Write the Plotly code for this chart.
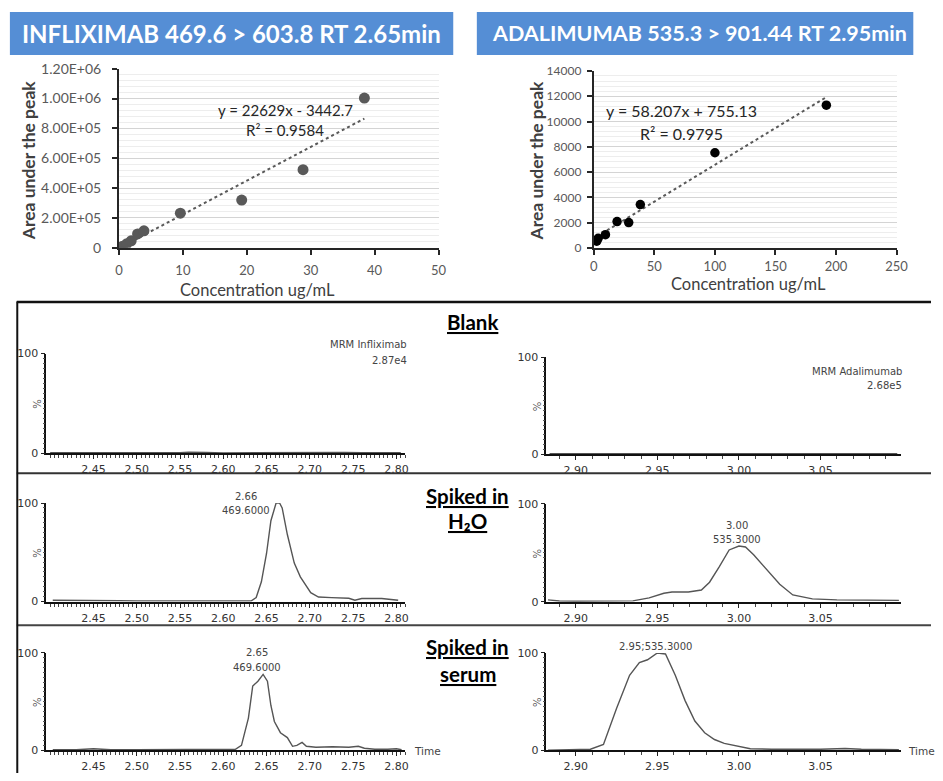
import plotly.graph_objects as go

# ---------------- calibration data ----------------
INFLIX_CONC = [0.0, 0.3, 0.6, 1.2, 1.9, 2.9, 3.9, 9.6, 19.2, 28.8, 38.4]
INFLIX_AREA = [0, 4000, 9000, 26000, 46000, 92000, 113000, 231000, 319000, 523000, 1003000]
INFLIX_SLOPE, INFLIX_ICPT = 22629, -3442.7
INFLIX_EQ = ["y = 22629x - 3442.7", "R² = 0.9584"]
INFLIX_YTICKS = [0, 200000, 400000, 600000, 800000, 1000000, 1200000]
INFLIX_YLABELS = ["0", "2.00E+05", "4.00E+05", "6.00E+05", "8.00E+05", "1.00E+06", "1.20E+06"]
INFLIX_XTICKS = [0, 10, 20, 30, 40, 50]

ADA_CONC = [2.4, 3.6, 9.6, 19.2, 28.8, 38.4, 100, 192]
ADA_AREA = [540, 770, 1050, 2090, 2010, 3430, 7530, 11290]
ADA_SLOPE, ADA_ICPT = 58.207, 755.13
ADA_EQ = ["y = 58.207x + 755.13", "R² = 0.9795"]
ADA_YTICKS = [0, 2000, 4000, 6000, 8000, 10000, 12000, 14000]
ADA_XTICKS = [0, 50, 100, 150, 200, 250]

TITLES = ["INFLIXIMAB 469.6 > 603.8 RT 2.65min", "ADALIMUMAB 535.3 > 901.44 RT 2.95min"]
ROW_LABELS = ["<b><u>Blank</u></b>",
              ["<b><u>Spiked in</u></b>", "<b><u>H₂O</u></b>"],
              ["<b><u>Spiked in</u></b>", "<b><u>serum</u></b>"]]

# ---------------- chromatograms (time in min, relative intensity %) ----------------
BLANK_INF_T = [2.400, 2.450, 2.500, 2.550, 2.560, 2.565, 2.570, 2.575, 2.580, 2.600, 2.650,
               2.670, 2.680, 2.690, 2.700, 2.720, 2.730, 2.740, 2.760, 2.805]
BLANK_INF_Y = [0.3, 0.2, 0.2, 0.3, 0.8, 0.9, 0.5, 0.8, 0.6, 0.2, 0.3,
               0.8, 0.9, 0.9, 0.6, 0.7, 0.9, 0.6, 0.3, 0.4]
BLANK_ADA_T = [2.884, 2.920, 2.960, 3.000, 3.040, 3.070, 3.097]
BLANK_ADA_Y = [0.4, 0.3, 0.3, 0.3, 0.3, 0.4, 0.4]

H2O_INF_T = [2.403, 2.42, 2.44, 2.46, 2.48, 2.50, 2.55, 2.60, 2.62, 2.632, 2.638, 2.644,
             2.650, 2.655, 2.661, 2.665, 2.668, 2.674, 2.682, 2.689, 2.701, 2.710, 2.725,
             2.745, 2.752, 2.760, 2.783, 2.802]
H2O_INF_Y = [1.3, 1.3, 1.0, 1.3, 0.8, 0.5, 0.3, 0.3, 0.3, 0.5, 4, 20,
             49, 82, 100, 100, 95, 68, 39, 25, 9, 4.6, 4,
             3.3, 1.3, 3, 3, 1.3]
H2O_ADA_T = [2.883, 2.89, 2.90, 2.92, 2.935, 2.945, 2.954, 2.959, 2.969, 2.977, 2.982,
             2.988, 2.994, 3.000, 3.004, 3.009, 3.017, 3.025, 3.033, 3.045, 3.06, 3.08, 3.098]
H2O_ADA_Y = [2, 0.8, 0.5, 0.5, 1, 4, 8.7, 10, 10, 12, 20,
             36, 53, 57, 56, 48, 33, 18, 7, 3, 2, 1.5, 1.5]

SERUM_INF_T = [2.403, 2.43, 2.45, 2.47, 2.50, 2.55, 2.60, 2.614, 2.621, 2.629, 2.634, 2.640,
               2.646, 2.651, 2.655, 2.659, 2.666, 2.674, 2.680, 2.685, 2.691, 2.696, 2.707,
               2.726, 2.745, 2.756, 2.763, 2.775, 2.790, 2.800, 2.806]
SERUM_INF_Y = [0.5, 0.5, 1.5, 0.5, 0.5, 0.5, 0.5, 1, 5, 33, 66, 71,
               78, 71, 46, 29.5, 18, 13, 4, 5, 8, 4, 3,
               3.5, 3, 4, 2, 1, 1, 1.5, 0.5]
SERUM_ADA_T = [2.883, 2.90, 2.909, 2.917, 2.925, 2.933, 2.939, 2.944, 2.950, 2.955, 2.961,
               2.967, 2.973, 2.979, 2.985, 2.991, 2.999, 3.007, 3.02, 3.05, 3.065, 3.075, 3.098]
SERUM_ADA_Y = [0, 0.3, 1, 6, 43, 77, 90, 93, 100, 99, 77,
               51, 30, 18, 11, 7, 4, 1.5, 1, 1, 1.8, 1, 0.5]

CHROMS = [(BLANK_INF_T, BLANK_INF_Y), (BLANK_ADA_T, BLANK_ADA_Y),
          (H2O_INF_T, H2O_INF_Y), (H2O_ADA_T, H2O_ADA_Y),
          (SERUM_INF_T, SERUM_INF_Y), (SERUM_ADA_T, SERUM_ADA_Y)]

LEFT_XTICKS = [2.45, 2.50, 2.55, 2.60, 2.65, 2.70, 2.75, 2.80]
RIGHT_XTICKS = [2.90, 2.95, 3.00, 3.05]

# ---------------- page geometry (pixels) ----------------
W, H = 943, 781


def fx(p):
    return p / W


def fy(p):
    return 1 - p / H


CAL_FONT = "Lato"
MS_FONT = "DejaVu Sans"
BLUE = "#558ed5"

fig = go.Figure()
layout = dict(width=W, height=H, margin=dict(l=0, r=0, t=0, b=0),
              paper_bgcolor="white", plot_bgcolor="rgba(0,0,0,0)",
              showlegend=False, shapes=[], annotations=[])
shapes = layout["shapes"]
ann = layout["annotations"]


def add_text(text, x, y, size, color="#404040", font=CAL_FONT, xanchor="center",
             angle=0, yanchor="middle"):
    ann.append(dict(text=text, x=fx(x), y=fy(y), xref="paper", yref="paper",
                    showarrow=False, xanchor=xanchor, yanchor=yanchor, textangle=angle,
                    font=dict(family=font, size=size, color=color)))


# ---------------- calibration curve panels ----------------
cal_panels = [
    dict(conc=INFLIX_CONC, area=INFLIX_AREA, slope=INFLIX_SLOPE, icpt=INFLIX_ICPT,
         xr=[0, 50], yr=[0, 1200000], xt=INFLIX_XTICKS, yt=INFLIX_YTICKS, yl=INFLIX_YLABELS,
         minor=40000, box=(117, 442, 61, 244), mcolor="#595959", msize=11,
         fit_x=(0.0, 38.4), eq=INFLIX_EQ, eq_pos=(286, 103, 124), eq_size=15,
         ytick_size=14, ystand=8, xstand=5,
         ytitle=(25, 155), xtitle=(258, 287), banner=(6, 457), title=TITLES[0],
         title_size=24, title_x=231),
    dict(conc=ADA_CONC, area=ADA_AREA, slope=ADA_SLOPE, icpt=ADA_ICPT,
         xr=[0, 250], yr=[0, 14000], xt=ADA_XTICKS, yt=ADA_YTICKS,
         yl=[str(v) for v in ADA_YTICKS],
         minor=400, box=(600, 908, 63.3, 244.3), mcolor="#000000", msize=9.5,
         fit_x=(2.4, 192.0), eq=ADA_EQ, eq_pos=(689, 104, 127), eq_size=16,
         ytick_size=12, ystand=3, xstand=0,
         ytitle=(542, 155), xtitle=(757, 281), banner=(481, 925), title=TITLES[1],
         title_size=21.5, title_x=707),
]

for i, p in enumerate(cal_panels, start=1):
    xa = "xaxis" if i == 1 else f"xaxis{i}"
    ya = "yaxis" if i == 1 else f"yaxis{i}"
    xs = "x" if i == 1 else f"x{i}"
    ys = "y" if i == 1 else f"y{i}"
    x0, x1, yt, yb = p["box"]
    minor_vals = [v for v in range(0, int(p["yr"][1]) + 1, p["minor"])]
    layout[xa] = dict(domain=[fx(x0), fx(x1)], range=p["xr"], anchor=ys,
                      tickmode="array", tickvals=p["xt"], showgrid=False, zeroline=False,
                      showline=True, linecolor="#262626", linewidth=2,
                      ticks="outside", ticklen=5, tickwidth=1.5, tickcolor="#262626",
                      ticklabelstandoff=p["xstand"],
                      tickfont=dict(family=CAL_FONT, size=13, color="#595959"))
    layout[ya] = dict(domain=[fy(yb), fy(yt)], range=p["yr"], anchor=xs,
                      tickmode="array", tickvals=p["yt"], ticktext=p["yl"],
                      showgrid=True, gridcolor="#d4d4d4", gridwidth=1, zeroline=False,
                      showline=True, linecolor="#262626", linewidth=2,
                      ticks="outside", ticklen=5, tickwidth=1.5, tickcolor="#262626",
                      ticklabelstandoff=p["ystand"],
                      minor=dict(tickmode="array", tickvals=minor_vals, showgrid=True,
                                 gridcolor="#ededed", gridwidth=1),
                      tickfont=dict(family=CAL_FONT, size=p["ytick_size"], color="#595959"))
    fx0, fx1 = p["fit_x"]
    fig.add_trace(go.Scatter(x=[fx0, fx1],
                             y=[p["slope"] * fx0 + p["icpt"], p["slope"] * fx1 + p["icpt"]],
                             mode="lines", line=dict(color="#595959", width=2, dash="dot"),
                             xaxis=xs, yaxis=ys, hoverinfo="skip"))
    fig.add_trace(go.Scatter(x=p["conc"], y=p["area"], mode="markers",
                             marker=dict(color=p["mcolor"], size=p["msize"]),
                             xaxis=xs, yaxis=ys))
    ex, ey1, ey2 = p["eq_pos"]
    add_text(p["eq"][0], ex, ey1, p["eq_size"], color="#262626")
    add_text(p["eq"][1], ex, ey2, p["eq_size"], color="#262626")
    add_text("<b>Area under the peak</b>", p["ytitle"][0], p["ytitle"][1], 17.5,
             color="#404040", angle=-90)
    add_text("Concentration ug/mL", p["xtitle"][0], p["xtitle"][1], 16.5, color="#404040")
    bx0, bx1 = p["banner"]
    shapes.append(dict(type="rect", xref="paper", yref="paper", x0=fx(bx0), x1=fx(bx1),
                       y0=fy(47), y1=fy(3), fillcolor=BLUE, line=dict(width=0), layer="below"))
    add_text(f"<b>{p['title']}</b>", p["title_x"], 25, p["title_size"], color="#ffffff")

# ---------------- chromatogram panels ----------------
LEFT = dict(x0=43, x1=408, rng=[2.3955, 2.810], ticks=LEFT_XTICKS, minor=0.005)
RIGHT = dict(x0=551.7, x1=912, rng=[2.882, 3.099], ticks=RIGHT_XTICKS, minor=0.01)
ROWS = [((352.3, 454), (356, 455)), ((505, 605.7), (506, 606)), ((658.3, 757.7), (658.3, 757.7))]

idx = 3
for r, row in enumerate(ROWS):
    for c, g in enumerate([LEFT, RIGHT]):
        yt, yb = row[c]
        xs, ys = f"x{idx}", f"y{idx}"
        layout[f"xaxis{idx}"] = dict(
            domain=[fx(g["x0"]), fx(g["x1"])], range=g["rng"], anchor=ys,
            tickmode="array", tickvals=g["ticks"], tickformat=".2f",
            showgrid=False, zeroline=False, showline=True, linecolor="#111111", linewidth=2,
            ticks="outside", ticklen=4, tickwidth=1, tickcolor="#222222", ticklabelstandoff=1,
            minor=dict(tickmode="linear", tick0=2.40, dtick=g["minor"], ticks="outside",
                       ticklen=3, tickcolor="#444444"),
            tickfont=dict(family=MS_FONT, size=11, color="#333333"))
        layout[f"yaxis{idx}"] = dict(
            domain=[fy(yb), fy(yt)], range=[0, 100], anchor=xs,
            tickmode="array", tickvals=[0, 100], ticktext=["0", "100"],
            showgrid=False, zeroline=False, showline=True, linecolor="#111111", linewidth=1.5,
            ticks="outside", ticklen=4, tickwidth=1, tickcolor="#222222", ticklabelstandoff=0,
            minor=dict(tickmode="linear", tick0=0, dtick=5, ticks="outside", ticklen=2,
                       tickcolor="#555555"),
            tickfont=dict(family=MS_FONT, size=11, color="#333333"))
        t, yv = CHROMS[idx - 3]
        fig.add_trace(go.Scatter(x=t, y=yv, mode="lines",
                                 line=dict(color="#555555", width=1.4),
                                 xaxis=xs, yaxis=ys, cliponaxis=False))
        add_text("%", g["x0"] - 9, (yt + yb) / 2, 10, color="#555555", font=MS_FONT, angle=-90)
        idx += 1

# chromatogram labels
add_text("MRM Infliximab", 412, 343, 10, color="#444444", font=MS_FONT, xanchor="right")
add_text("2.87e4", 412, 359, 10, color="#444444", font=MS_FONT, xanchor="right")
add_text("MRM Adalimumab", 916, 371, 10, color="#444444", font=MS_FONT, xanchor="right")
add_text("2.68e5", 916, 385, 10, color="#444444", font=MS_FONT, xanchor="right")
add_text("2.66", 246.5, 498, 10, color="#444444", font=MS_FONT)
add_text("469.6000", 246.5, 513, 10, color="#444444", font=MS_FONT)
add_text("3.00", 746, 528, 10, color="#444444", font=MS_FONT)
add_text("535.3000", 746, 542, 10, color="#444444", font=MS_FONT)
add_text("2.65", 257, 658, 10, color="#444444", font=MS_FONT)
add_text("469.6000", 257, 673, 10, color="#444444", font=MS_FONT)
add_text("2.95;535.3000", 663, 652, 10, color="#444444", font=MS_FONT)
add_text("Time", 415, 759, 10.5, color="#444444", font=MS_FONT, xanchor="left")
add_text("Time", 918, 759, 10.5, color="#444444", font=MS_FONT, xanchor="left")

# row captions
add_text(ROW_LABELS[0], 477, 320, 20.5, color="#000000")
add_text(ROW_LABELS[1][0], 471, 498, 20.5, color="#000000")
add_text(ROW_LABELS[1][1], 472, 523, 20.5, color="#000000")
add_text(ROW_LABELS[2][0], 471, 652, 20.5, color="#000000")
add_text(ROW_LABELS[2][1], 472, 680, 20.5, color="#000000")

# frame around the chromatogram block
for y, w, col in [(299.5, 2.5, "#111111"), (474.5, 2, "#333333"), (630, 2, "#444444")]:
    shapes.append(dict(type="line", xref="paper", yref="paper", x0=fx(13), x1=1,
                       y0=fy(y), y1=fy(y), line=dict(color=col, width=w)))
shapes.append(dict(type="line", xref="paper", yref="paper", x0=fx(13.5), x1=fx(13.5),
                   y0=fy(299), y1=0, line=dict(color="#111111", width=2)))

fig.update_layout(**layout)
fig.write_html("out.html")
